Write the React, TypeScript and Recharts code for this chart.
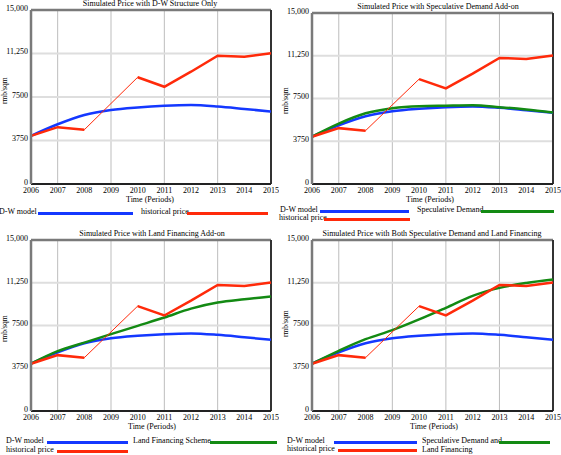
import {
  CartesianGrid,
  Line,
  LineChart,
  ReferenceLine,
  XAxis,
  YAxis,
} from "recharts"

// periods on the x axis
const years = [2006, 2007, 2008, 2009, 2010, 2011, 2012, 2013, 2014, 2015]
const yTicks = [0, 3750, 7500, 11250, 15000]

// rmb/sqm values
const dwModel = [4150, 5150, 5950, 6380, 6600, 6740, 6800, 6680, 6470, 6250]
const historical = [4150, 4900, 4680, null, 9200, 8380, 9680, 11060, 10970, 11280]
const speculative = [4150, 5300, 6200, 6650, 6830, 6870, 6900, 6740, 6530, 6270]
const landFinancing = [4150, 5250, 6000, 6740, 7470, 8200, 8980, 9510, 9800, 10040]
const bothAddOns = [4150, 5280, 6300, 7090, 8030, 9050, 10100, 10800, 11230, 11530]

const rows = years.map((year, i) => ({
  year,
  dw: dwModel[i],
  hist: historical[i],
  spec: speculative[i],
  land: landFinancing[i],
  both: bothAddOns[i],
}))

const BLUE = "#1438ff"
const RED = "#ff2a0a"
const GREEN = "#138a13"
const FONT = "'Liberation Serif', 'Times New Roman', serif"

type LegendItem = { label: string; color: string; tx: number; x1: number; x2: number; y: number }

interface PanelProps {
  title: string
  titleX: number
  axisTitleX: number
  yLabelY: number
  left: number
  right: number
  top: number
  bottom: number
  extraKey?: "spec" | "land" | "both"
  legend: LegendItem[]
}

const YW = 31
const MT = 6
const MR = 8
const XH = 14

function fmt(v: number) {
  return v >= 10000 ? v.toLocaleString("en-US") : String(v)
}

function Text({ x, y, children, anchor = "left", rotate = false, size = 8 }: any) {
  const style: React.CSSProperties = {
    position: "absolute",
    top: y - size / 2,
    fontSize: size,
    lineHeight: `${size}px`,
    whiteSpace: "nowrap",
    fontFamily: FONT,
    color: "#000",
  }
  if (rotate) {
    style.left = x
    style.transform = "translate(-50%, 0) rotate(-90deg)"
  } else if (anchor === "middle") {
    style.left = x
    style.transform = "translateX(-50%)"
  } else {
    style.left = x
  }
  return <div style={style}>{children}</div>
}

function Panel(p: PanelProps) {
  const w = p.right - p.left + YW + MR
  const h = p.bottom - p.top + MT + XH
  const tick = { fontSize: 8, fill: "#000", fontFamily: FONT }
  return (
    <>
      <Text x={p.titleX} y={p.top - 6} anchor="middle">{p.title}</Text>
      <div style={{ position: "absolute", left: p.left - YW, top: p.top - MT }}>
        <LineChart width={w} height={h} data={rows} margin={{ top: MT, right: MR, left: 0, bottom: 0 }}>
          <CartesianGrid horizontal={false} stroke="#bdbdbd" strokeWidth={1} />
          <CartesianGrid vertical={false} stroke="#dedede" strokeWidth={2} />
          <XAxis
            dataKey="year"
            type="number"
            domain={[2006, 2015]}
            ticks={years}
            height={XH}
            tickLine={false}
            tickSize={0}
            tickMargin={3}
            tick={tick}
            axisLine={{ stroke: "#222", strokeWidth: 2 }}
          />
          <YAxis
            type="number"
            domain={[0, 15000]}
            ticks={yTicks}
            width={YW}
            tickLine={false}
            tickSize={0}
            tickMargin={3}
            tick={{ ...tick, dy: -2 }}
            tickFormatter={fmt}
            axisLine={{ stroke: "#7a7a7a", strokeWidth: 2.5 }}
          />
          <ReferenceLine y={15000} stroke="#7a7a7a" strokeWidth={2.5} />
          <ReferenceLine x={2015} stroke="#333" strokeWidth={2} />
          <Line
            dataKey="dw"
            type="monotone"
            stroke={BLUE}
            strokeWidth={2.5}
            dot={false}
            activeDot={false}
            isAnimationActive={false}
          />
          {p.extraKey && (
            <Line
              dataKey={p.extraKey}
              type="monotone"
              stroke={GREEN}
              strokeWidth={2.5}
              dot={false}
              activeDot={false}
              isAnimationActive={false}
            />
          )}
          <Line
            dataKey="hist"
            type="linear"
            stroke={RED}
            strokeWidth={1}
            connectNulls
            dot={false}
            activeDot={false}
            isAnimationActive={false}
          />
          <Line
            dataKey="hist"
            type="linear"
            stroke={RED}
            strokeWidth={2.5}
            dot={false}
            activeDot={false}
            isAnimationActive={false}
          />
        </LineChart>
      </div>
      <Text x={p.axisTitleX} y={p.bottom + 16} anchor="middle">Time (Periods)</Text>
      <Text x={p.left - 26} y={p.yLabelY} rotate size={7.5}>rmb/sqm</Text>
      {p.legend.map((it) => (
        <div key={it.label + it.y}>
          <Text x={it.tx} y={it.y - 1}>{it.label}</Text>
          <div
            style={{
              position: "absolute",
              left: it.x1,
              top: it.y - 1,
              width: it.x2 - it.x1,
              height: 2.5,
              background: it.color,
            }}
          />
        </div>
      ))}
    </>
  )
}

export default function App() {
  return (
    <div
      style={{
        position: "absolute",
        left: 0,
        top: 0,
        width: 561,
        height: 455,
        background: "#fff",
        overflow: "hidden",
        fontFamily: FONT,
      }}
    >
      <Panel
        title="Simulated Price with D-W Structure Only"
        titleX={150}
        axisTitleX={150}
        yLabelY={91}
        left={31}
        right={271}
        top={10}
        bottom={184}
        legend={[
          { label: "D-W model", color: BLUE, tx: -1, x1: 38, x2: 133, y: 213 },
          { label: "historical price", color: RED, tx: 141, x1: 187, x2: 268, y: 213 },
        ]}
      />
      <Panel
        title="Simulated Price with Speculative Demand Add-on"
        titleX={438}
        axisTitleX={430}
        yLabelY={101}
        left={312}
        right={553}
        top={13}
        bottom={184}
        extraKey="spec"
        legend={[
          { label: "D-W model", color: BLUE, tx: 280, x1: 320, x2: 409, y: 211 },
          { label: "Speculative Demand", color: GREEN, tx: 417, x1: 481, x2: 554, y: 211 },
          { label: "historical price", color: RED, tx: 279, x1: 324, x2: 410, y: 219 },
        ]}
      />
      <Panel
        title="Simulated Price with Land Financing Add-on"
        titleX={152}
        axisTitleX={152}
        yLabelY={329}
        left={31}
        right={271}
        top={240}
        bottom={411}
        extraKey="land"
        legend={[
          { label: "D-W model", color: BLUE, tx: 6, x1: 47, x2: 128, y: 442 },
          { label: "Land Financing Scheme", color: GREEN, tx: 133, x1: 210, x2: 277, y: 442 },
          { label: "historical price", color: RED, tx: 6, x1: 57, x2: 128, y: 451 },
        ]}
      />
      <Panel
        title="Simulated Price with Both Speculative Demand and Land Financing"
        titleX={432}
        axisTitleX={434}
        yLabelY={324}
        left={312}
        right={553}
        top={240}
        bottom={411}
        extraKey="both"
        legend={[
          { label: "D-W model", color: BLUE, tx: 287, x1: 334, x2: 417, y: 442 },
          { label: "Speculative Demand and", color: GREEN, tx: 422, x1: 499, x2: 550, y: 442 },
          { label: "historical price", color: RED, tx: 287, x1: 338, x2: 417, y: 450 },
          { label: "Land Financing", color: "transparent", tx: 422, x1: 422, x2: 422, y: 451 },
        ]}
      />
    </div>
  )
}
